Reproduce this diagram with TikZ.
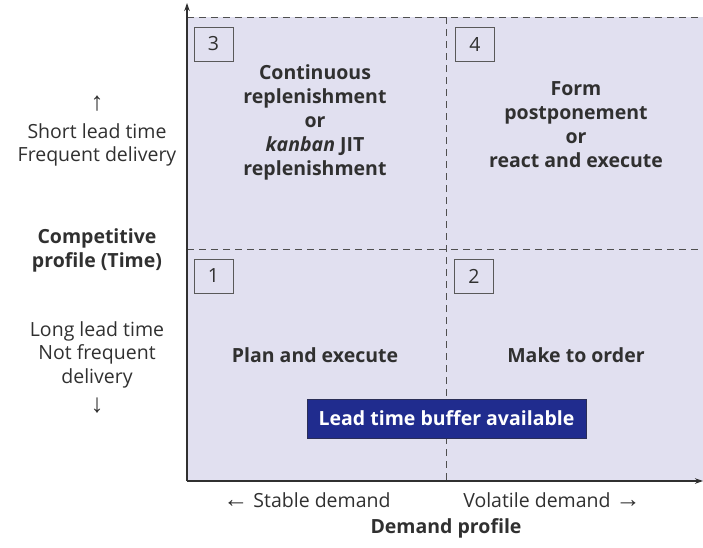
\documentclass[tikz,border=0pt]{standalone}
\usepackage{fontspec}
\setmainfont{Open Sans}
\newfontfamily\arrowfont{Liberation Sans}
\usetikzlibrary{arrows.meta}
\definecolor{panel}{HTML}{E1E0F0}
\definecolor{bufferblue}{HTML}{202C8E}
\definecolor{inkgrey}{HTML}{303030}
\newcommand{\leftarr}{{\arrowfont\fontsize{25}{20}\selectfont ←}}
\newcommand{\rightarr}{{\arrowfont\fontsize{25}{20}\selectfont →}}
\begin{document}
\begin{tikzpicture}[x=1pt,y=-1pt,
  every node/.style={font=\fontsize{19.5}{24}\selectfont, text=inkgrey, align=center, inner sep=0pt},
  boldtext/.style={font=\fontsize{19.5}{24}\selectfont\bfseries},
  sidetext/.style={font=\fontsize{19.5}{23.5}\selectfont},
  arrowglyph/.style={font=\arrowfont\fontsize{26}{26}\selectfont},
  numbox/.style={draw=inkgrey!80, line width=0.8pt, fill=panel, minimum width=39pt, minimum height=34pt},
  divider/.style={draw=inkgrey!85, line width=0.9pt, dash pattern=on 7pt off 5pt},
  axisline/.style={draw=inkgrey, line width=1.2pt, -{Stealth[length=8pt,width=5.5pt]}}]
\useasboundingbox (0,0) rectangle (703,547);
% shaded matrix
\fill[panel] (187,17) rectangle (703,481);
% dividers
\draw[divider] (187,17) -- (703,17);
\draw[divider] (187,249) -- (703,249);
\draw[divider] (446,17) -- (446,481);
% axes
\coordinate (origin) at (187,481);
\coordinate (ytop) at (187,3);
\coordinate (xend) at (703,481);
\draw[axisline] (origin) -- (ytop);
\draw[axisline] (origin) -- (xend);
% quadrant numbers
\node[numbox] (n3) at (213.5,44) {3};
\node[numbox] (n4) at (475,44) {4};
\node[numbox] (n1) at (213.5,276) {1};
\node[numbox] (n2) at (474,276) {2};
% quadrant texts
\node[boldtext] (q3) at (315,122) {Continuous\\replenishment\\or\\\textit{kanban} JIT\\replenishment};
\node[boldtext] (q4) at (576,125) {Form\\postponement\\or\\react and execute};
\node[boldtext] (q1) at (315,355) {Plan and execute};
\node[boldtext] (q2) at (576,355) {Make to order};
% buffer banner
\node[fill=bufferblue, draw=inkgrey!60!bufferblue, minimum width=279pt, minimum height=39pt,
      text=white, boldtext] (buffer) at (446.5,418.5) {Lead time buffer available};
% vertical axis labels
\node[arrowglyph] (uparrow) at (97,104) {↑};
\node[sidetext] (short) at (97,145) {Short lead time\\Frequent delivery};
\node[boldtext] (comp) at (97,250) {Competitive\\profile (Time)};
\node[sidetext] (long) at (97,354.5) {Long lead time\\Not frequent\\delivery};
\node[arrowglyph] (downarrow) at (97,406) {↓};
% horizontal axis labels
\node (stable) at (307,500) {\leftarr{} Stable demand};
\node (volatile) at (552,500) {Volatile demand \rightarr};
\node[boldtext] (dprof) at (446,528) {Demand profile};
\end{tikzpicture}
\end{document}
